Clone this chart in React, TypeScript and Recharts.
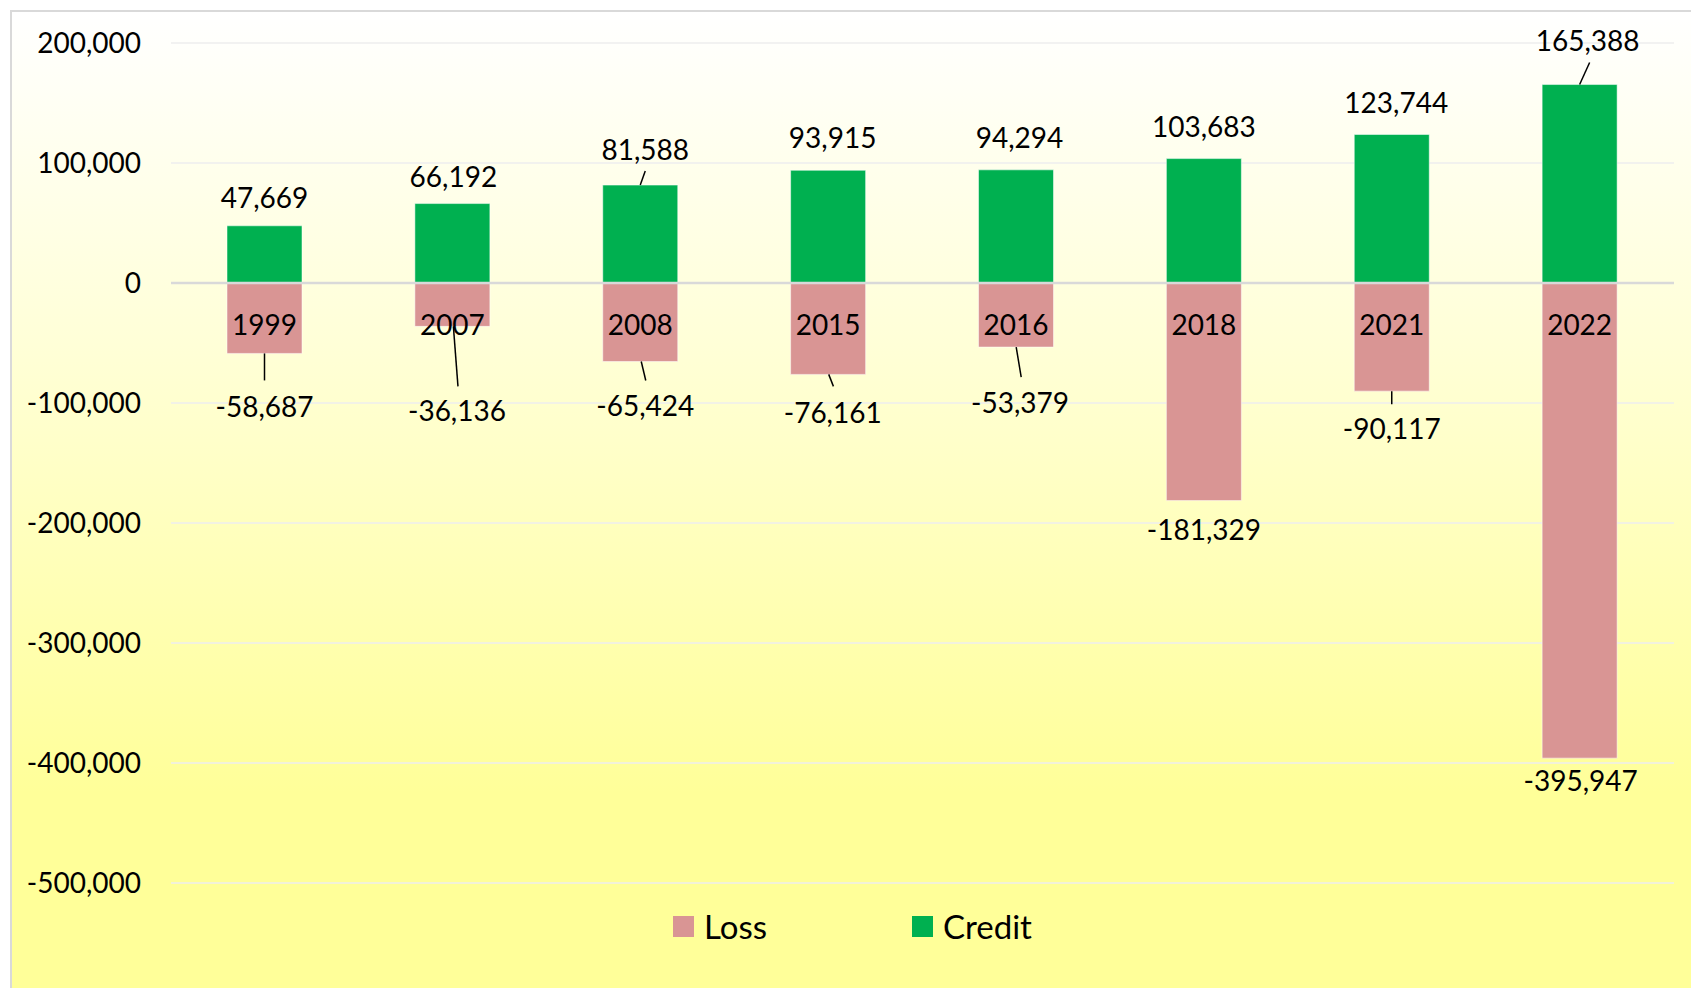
import React from 'react';
import { BarChart, Bar, XAxis, YAxis, CartesianGrid, ReferenceLine, LabelList } from 'recharts';

const years = ['1999', '2007', '2008', '2015', '2016', '2018', '2021', '2022'];
const loss = [-58687, -36136, -65424, -76161, -53379, -181329, -90117, -395947];
const credit = [47669, 66192, 81588, 93915, 94294, 103683, 123744, 165388];
const yTicks = [200000, 100000, 0, -100000, -200000, -300000, -400000, -500000];

// label nudges [dx, dy] relative to bar centre / bar end (styling only)
const creditLabelNudge = [[0, -29], [1, -28], [5, -36], [4.5, -33], [3.5, -33], [0, -32.5], [4.5, -33], [8, -45]];
const lossLabelNudge = [[0, 52.5], [4.6, 84], [5, 43.5], [4.6, 37.6], [4, 55], [0, 28], [0, 37], [1, 22]];
// leader lines [dx start, dx end, dy end]
const creditLeader: (number[] | null)[] = [null, null, [0, 5, -14], null, null, null, null, [0, 10, -22]];
const lossLeader: (number[] | null)[] = [[0, 0, 27], [1, 5.6, 60], [1, 5.5, 19], [0.6, 5.3, 12], [0.2, 5.2, 30], null, [0, 0, 13], null];

const data = years.map((y, i) => ({ year: y, Loss: loss[i], Credit: credit[i] }));

const FONT = 'Lato, "Open Sans", sans-serif';
const FS = 28;
const fmt = (v: number) => Number(v).toLocaleString('en-US');

const makeValueLabel = (nudges: number[][], leaders: (number[] | null)[], positive: boolean) => (props: any) => {
  const x = Number(props.x), y = Number(props.y), w = Number(props.width), h = Number(props.height);
  const idx = props.index;
  const cx = x + w / 2;
  const end = positive ? Math.min(y, y + h) : Math.max(y, y + h);
  const [dx, dy] = nudges[idx] || [0, 0];
  const ld = leaders[idx];
  return (
    <g>
      {ld && (
        <line x1={cx + ld[0]} y1={end} x2={cx + ld[1]} y2={end + ld[2]} stroke="#000" strokeWidth={1.5} />
      )}
      <text x={cx + dx} y={end + dy} textAnchor="middle" dominantBaseline="central" fontFamily={FONT} fontSize={FS} fill="#000">
        {fmt(props.value)}
      </text>
    </g>
  );
};

const CategoryLabel = (props: any) => {
  const x = Number(props.x), y = Number(props.y), w = Number(props.width), h = Number(props.height);
  const zero = Math.max(y, y + h);
  return (
    <text x={x + w / 2} y={zero + 41} textAnchor="middle" dominantBaseline="central" fontFamily={FONT} fontSize={FS} fill="#000">
      {props.value}
    </text>
  );
};

const legendItems = [
  { name: 'Loss', color: '#D99594', left: 673 },
  { name: 'Credit', color: '#00B050', left: 912 },
];

export default function App() {
  return (
    <div style={{ position: 'absolute', left: 0, top: 0, width: 1691, height: 988, background: '#ffffff', overflow: 'hidden' }}>
      <div
        style={{
          position: 'absolute', left: 10, top: 10, width: 1681, height: 978, boxSizing: 'border-box',
          borderLeft: '2px solid #d9d9d9', borderTop: '2px solid #d9d9d9',
          background: 'linear-gradient(to bottom, #FFFFFF 0%, #FFFFD6 35%, #FFFF99 80%, #FFFF99 100%)',
        }}
      />
      <div style={{ position: 'absolute', left: 0, top: 0 }}>
        <BarChart width={1691} height={988} data={data} stackOffset="sign" margin={{ top: 43, right: 17, bottom: 105, left: 0 }}>
          <CartesianGrid vertical={false} stroke="#eeeeee" strokeWidth={1.5} />
          <XAxis dataKey="year" hide />
          <YAxis
            width={171}
            domain={[-500000, 200000]}
            ticks={yTicks}
            interval={0}
            axisLine={false}
            tickLine={false}
            tickSize={0}
            tickMargin={30}
            tickFormatter={fmt}
            tick={{ fontFamily: FONT, fontSize: FS, fill: '#000' }}
          />
          <Bar dataKey="Loss" stackId="a" fill="#D99594" barSize={75} stroke="#ffffff" strokeOpacity={0.5} strokeWidth={1} isAnimationActive={false}>
            <LabelList dataKey="Loss" content={makeValueLabel(lossLabelNudge, lossLeader, false)} />
          </Bar>
          <Bar dataKey="Credit" stackId="a" fill="#00B050" barSize={75} stroke="#ffffff" strokeOpacity={0.5} strokeWidth={1} isAnimationActive={false}>
            <LabelList dataKey="Credit" content={makeValueLabel(creditLabelNudge, creditLeader, true)} />
            <LabelList dataKey="year" content={CategoryLabel} />
          </Bar>
          <ReferenceLine y={0} stroke="#d9d9d9" strokeWidth={2.5} />
        </BarChart>
      </div>
      {legendItems.map((it) => (
        <div key={it.name} style={{ position: 'absolute', left: it.left, top: 906, height: 40, display: 'flex', alignItems: 'center' }}>
          <div style={{ width: 21, height: 21, background: it.color, marginRight: 10 }} />
          <span style={{ fontFamily: FONT, fontSize: 33, color: '#000', lineHeight: '40px' }}>{it.name}</span>
        </div>
      ))}
    </div>
  );
}
